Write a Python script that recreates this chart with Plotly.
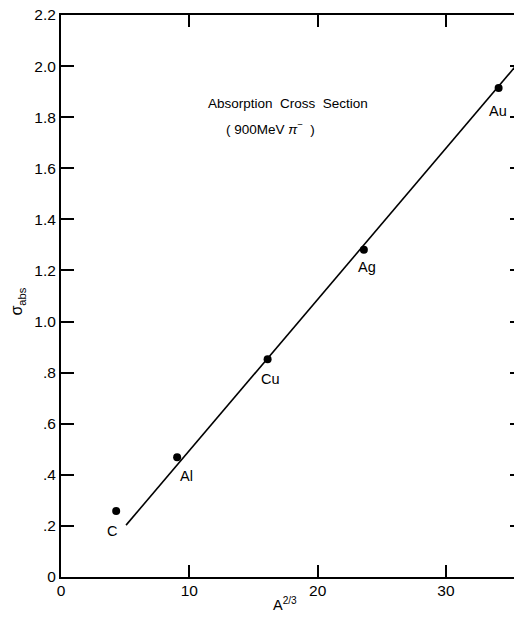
import plotly.graph_objects as go

# data
elements = ["C", "Al", "Cu", "Ag", "Au"]
a23 = [4.3, 9.05, 16.1, 23.6, 34.1]
sigma_abs = [0.258, 0.469, 0.852, 1.281, 1.914]

fit_x = [5.07, 35.6]
fit_y = [0.203, 2.01]

x_tickvals = [0, 10, 20, 30]
x_ticktext = ["0", "10", "20", "30"]
y_tickvals = [0, 0.2, 0.4, 0.6, 0.8, 1.0, 1.2, 1.4, 1.6, 1.8, 2.0, 2.2]
y_ticktext = ["0", ".2", ".4", ".6", ".8", "1.0", "1.2", "1.4", "1.6", "1.8", "2.0", "2.2"]

# label positions (offsets in data units relative to points)
label_dx = [-0.3, 0.7, 0.2, 0.25, -0.05]
label_dy = [-0.078, -0.074, -0.075, -0.066, -0.09]

FONT = "Liberation Sans, Arial, sans-serif"

fig = go.Figure()
fig.add_trace(go.Scatter(x=fit_x, y=fit_y, mode="lines",
                         line=dict(color="black", width=1.6), showlegend=False,
                         hoverinfo="skip"))
fig.add_trace(go.Scatter(x=a23, y=sigma_abs, mode="markers",
                         marker=dict(color="black", size=8), showlegend=False))
# invisible traces for right-side and left inward ticks
fig.add_trace(go.Scatter(x=[0], y=[0], yaxis="y2", mode="markers",
                         marker=dict(opacity=0), showlegend=False, hoverinfo="skip"))
fig.add_trace(go.Scatter(x=[0], y=[0], yaxis="y3", mode="markers",
                         marker=dict(opacity=0), showlegend=False, hoverinfo="skip"))

for el, x, y, dx, dy in zip(elements, a23, sigma_abs, label_dx, label_dy):
    fig.add_annotation(x=x + dx, y=y + dy, text=el, showarrow=False,
                       font=dict(size=14.5, color="black", family=FONT))

fig.add_annotation(x=17.7, y=1.855, text="Absorption  Cross  Section", showarrow=False,
                   font=dict(size=13.5, color="black", family=FONT))
fig.add_annotation(x=16.3, y=1.758, text="( 900MeV <i>π</i><sup>−</sup>  )", showarrow=False,
                   font=dict(size=13.5, color="black", family=FONT))

fig.add_annotation(xref="paper", yref="paper", x=-43 / 453, y=0.49,
                   xanchor="center", yanchor="middle",
                   text="σ<sub>abs</sub>", textangle=-90, showarrow=False,
                   font=dict(size=16, color="black", family=FONT))
fig.add_annotation(xref="paper", yref="paper", x=224 / 453, y=-16 / 562,
                   xanchor="center", yanchor="top",
                   text="A<sup>2/3</sup>", showarrow=False,
                   font=dict(size=14.5, color="black", family=FONT))

fig.update_layout(
    width=514, height=633,
    margin=dict(l=61, r=0, t=15, b=56, autoexpand=False),
    paper_bgcolor="white", plot_bgcolor="white",
    font=dict(family=FONT, size=15, color="black"),
    xaxis=dict(range=[0, 35.3], tickvals=x_tickvals, ticktext=x_ticktext,
               ticks="inside", ticklen=12, tickwidth=2, tickcolor="black",
               showline=True, linecolor="black", linewidth=2, mirror="ticks",
               showgrid=False, zeroline=False, fixedrange=True, automargin=False,
               ticklabelstandoff=-2, tickfont=dict(size=15.5)),
    yaxis=dict(range=[0, 2.2], tickvals=y_tickvals, ticktext=y_ticktext,
               ticks="outside", ticklen=0, tickwidth=2, tickcolor="black",
               showline=True, linecolor="black", linewidth=2,
               showgrid=False, zeroline=False, fixedrange=True, automargin=False,
               tickfont=dict(size=15.5)),
    yaxis2=dict(range=[0, 2.2], tickvals=y_tickvals[1:-1], overlaying="y", side="right",
                ticks="inside", ticklen=4, tickwidth=2, tickcolor="black",
                showticklabels=False, showline=False, showgrid=False, zeroline=False,
                fixedrange=True, automargin=False),
    yaxis3=dict(range=[0, 2.2], tickvals=y_tickvals[1:-1], overlaying="y", side="left",
                ticks="inside", ticklen=13, tickwidth=2, tickcolor="black",
                showticklabels=False, showline=False, showgrid=False, zeroline=False,
                fixedrange=True, automargin=False),
)

fig.write_html("out.html", config={"displayModeBar": False},
               post_script="document.body.style.margin='0';document.body.style.overflow='hidden';")
